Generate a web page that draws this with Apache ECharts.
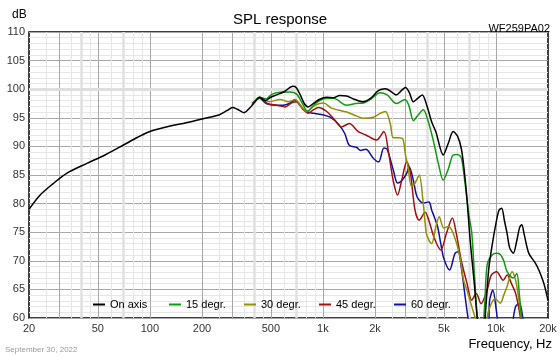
<!DOCTYPE html>
<html>
<head>
<meta charset="utf-8">
<script src="https://cdn.jsdelivr.net/npm/echarts@6/dist/echarts.min.js"></script>
<style>html,body{margin:0;padding:0;background:#fff;}#c{width:560px;height:356px;}</style>
</head>
<body>
<div id="c"></div>
<script>
// ---- data (frequency Hz, SPL dB) ----
var seriesNames = ['On axis', '15 degr.', '30 degr.', '45 degr.', '60 degr.'];
var seriesColors = ['#000000', '#109910', '#909000', '#a01010', '#1010a0'];

var onAxis = [[20,79.0],[23.2,81.5],[27.6,83.5],[33,85.3],[43,87.0],[55,88.5],[70,90.2],[85,91.6],[100,92.6],[137,93.7],[160,94.1],[200,94.8],[250,95.5],[280,96.3],[300,96.8],[320,96.5],[350,95.9],[380,96.8],[410,98.0],[430,98.6],[465,98.0],[500,98.6],[540,99.0],[600,99.6],[670,100.5],[700,100.3],[740,99.0],[780,97.5],[820,96.9],[880,97.5],[950,98.2],[1050,98.6],[1150,98.5],[1250,98.9],[1370,98.8],[1500,98.3],[1700,97.8],[1900,98.5],[2100,99.8],[2300,100.1],[2500,99.5],[2650,99.0],[2850,99.8],[3000,100.3],[3150,99.5],[3330,97.8],[3500,98.3],[3750,99.0],[4000,97.0],[4250,94.3],[4500,92.5],[4960,88.5],[5300,90.5],[5660,92.6],[6000,91.8],[6320,89.5],[6600,85.0],[6812,80.6],[7100,73.5],[7500,66.0],[7800,60.0],[8100,57.0],[8500,58.0],[8800,63.0],[9100,68.7],[9600,73.5],[10000,76.5],[10400,78.8],[10800,79.2],[11200,77.0],[11600,74.8],[12000,72.3],[12600,71.3],[13200,73.5],[13700,75.8],[14100,76.3],[14600,74.5],[15500,71.3],[16900,69.6],[17700,68.4],[18900,66.1],[20000,63.1]];

var deg15 = [[390,97.3],[430,98.6],[470,98.3],[506,99.1],[565,99.45],[642,99.5],[707,99.1],[770,97.2],[816,96.1],[882,97.2],[985,98.2],[1150,98.4],[1372,97.2],[1550,97.5],[1712,97.6],[1900,98.3],[2136,99.4],[2350,99.0],[2664,97.5],[2984,98.2],[3150,97.0],[3334,94.5],[3550,95.5],[3800,96.4],[4050,94.5],[4340,91.1],[4650,87.0],[4960,84.1],[5300,86.0],[5660,88.5],[6000,88.6],[6320,87.9],[6600,84.0],[6812,80.6],[7000,77.7],[7250,74.9],[7500,68.0],[7770,61.0],[8000,58.0],[8300,57.0],[8600,62.0],[8900,69.3],[9500,71.0],[10100,71.3],[10600,71.1],[11100,70.0],[11600,68.1],[12600,67.0],[13200,67.8],[13700,63.7],[14100,60.0],[14500,58.0]];

var deg30 = [[390,97.2],[430,98.6],[490,97.8],[565,98.2],[630,97.8],[690,98.2],[755,96.9],[805,96.1],[900,97.2],[1010,97.6],[1120,96.7],[1372,96.0],[1570,95.3],[1712,94.9],[1960,95.1],[2150,95.8],[2300,96.1],[2450,94.0],[2550,91.5],[2750,91.5],[2900,91.3],[3000,88.5],[3100,86.5],[3250,83.0],[3400,83.5],[3600,85.0],[3800,80.1],[3960,74.8],[4100,73.6],[4250,73.0],[4500,76.0],[4700,77.7],[5000,75.7],[5300,76.0],[5660,74.8],[6200,70.7],[6500,66.6],[6800,64.9],[7250,62.0],[7600,60.0],[7900,58.0],[8500,58.0],[9100,61.4],[9900,63.4],[10600,62.6],[11100,64.0],[11600,65.5],[12400,68.1],[13000,66.6],[13500,63.7],[14000,60.0],[14400,58.0]];

var deg45 = [[390,97.5],[430,98.4],[478,97.5],[540,97.2],[605,96.9],[660,97.6],[707,97.8],[770,96.4],[825,95.8],[880,96.4],[940,96.8],[1052,96.1],[1170,94.6],[1280,93.4],[1420,94.0],[1600,92.6],[1770,92.0],[2040,91.1],[2250,92.6],[2400,88.8],[2550,84.0],[2700,81.5],[2850,84.0],[3050,87.3],[3200,85.5],[3400,79.0],[3600,77.1],[3900,78.5],[4100,77.0],[4400,74.0],[4800,71.9],[5200,75.0],[5600,77.5],[5900,74.8],[6300,70.1],[6800,66.1],[7250,63.1],[7700,64.3],[8200,62.5],[8900,64.9],[9400,67.5],[10100,68.1],[11000,66.6],[11600,67.5],[12300,66.0],[13000,64.3],[13700,61.0],[14200,58.0]];

var deg60 = [[390,97.5],[430,98.4],[470,97.5],[530,97.2],[590,97.2],[640,97.5],[690,98.1],[735,97.2],[800,96.1],[882,95.8],[1010,95.5],[1100,95.1],[1220,94.0],[1335,92.3],[1420,90.2],[1570,89.8],[1650,89.3],[1770,89.5],[1960,87.9],[2100,87.3],[2250,89.7],[2350,89.5],[2550,85.9],[2700,83.6],[2850,84.0],[3050,85.3],[3150,86.5],[3330,84.1],[3500,81.2],[3800,80.1],[4100,80.3],[4250,78.9],[4400,77.7],[4600,76.0],[4800,73.0],[5000,70.4],[5400,68.4],[5800,71.3],[6050,71.6],[6300,69.0],[6600,64.3],[6900,60.0],[7200,57.0],[9000,58.0],[9200,63.1],[9600,64.9],[10100,60.9],[10500,58.0],[12000,58.0],[13000,62.0],[13700,62.6],[14300,60.0],[14600,58.0]];

// ---- axis ticks ----
var xTickValues = [20, 50, 100, 200, 500, 1000, 2000, 5000, 10000, 20000];
var xTickLabels = ['20', '50', '100', '200', '500', '1k', '2k', '5k', '10k', '20k'];
var gridMultipliers = [2, 2.5, 3, 3.5, 4, 4.5, 5, 6, 7, 8, 9, 10];
var darkMultipliers = [2, 3, 5, 10];
var thickMultipliers = [4, 7];
var decades = [10, 100, 1000];
var yHighlight = [100];

// ---- build grid markLines ----
var gridLines = [];
decades.forEach(function (d) {
  gridMultipliers.forEach(function (m) {
    var f = Math.round(d * m);
    if (f <= 20 || f >= 20000) return;
    var dark = darkMultipliers.indexOf(m) >= 0;
    var thick = thickMultipliers.indexOf(m) >= 0;
    gridLines.push({
      xAxis: f,
      lineStyle: {
        color: dark ? '#a8a8a8' : (thick ? '#e0e0e0' : '#e6e6e6'),
        width: thick ? 2.5 : 1,
        type: 'solid'
      }
    });
  });
});
yHighlight.forEach(function (v) {
  gridLines.push({ yAxis: v, lineStyle: { color: '#dedede', width: 3, type: 'solid' } });
});
var tickLabelLines = xTickValues.map(function (v, i) {
  return {
    xAxis: v,
    lineStyle: { color: 'rgba(0,0,0,0)', width: 1, type: 'solid' },
    label: { show: true, position: 'start', formatter: xTickLabels[i], distance: 5, color: '#333', fontSize: 11, fontFamily: 'Liberation Sans' }
  };
});

var chart = echarts.init(document.getElementById('c'), null, { renderer: 'canvas' });

var series = [{
  name: '_grid',
  type: 'line',
  data: [],
  silent: true,
  z: 1,
  markLine: {
    silent: true,
    symbol: 'none',
    animation: false,
    z: 1,
    lineStyle: { type: 'solid' },
    label: { show: false },
    data: gridLines.concat(tickLabelLines)
  }
}];
[onAxis, deg15, deg30, deg45, deg60].forEach(function (d, i) {
  series.push({
    name: seriesNames[i],
    type: 'line',
    data: d,
    symbol: 'none',
    smooth: 0.3,
    clip: true,
    z: 10 - i,
    lineStyle: { color: seriesColors[i], width: 1.5 },
    itemStyle: { color: seriesColors[i] }
  });
});

var legendLefts = [93, 169, 244, 319, 394];
var legends = seriesNames.map(function (n, i) {
  return {
    data: [n],
    left: legendLefts[i],
    top: 299,
    padding: 0,
    icon: 'rect',
    itemWidth: 12,
    itemHeight: 2,
    textStyle: { fontSize: 11, color: '#000', fontFamily: 'Liberation Sans' },
    selectedMode: false
  };
});

chart.setOption({
  animation: false,
  backgroundColor: '#fff',
  title: [
    { text: 'SPL response', left: 'center', top: 7, textStyle: { fontSize: 15, fontWeight: 'normal', color: '#000', fontFamily: 'Liberation Sans' } },
    { text: 'dB', left: 7, top: 4, textStyle: { fontSize: 12, fontWeight: 'normal', color: '#000', fontFamily: 'Liberation Sans' } },
    { text: 'WF259PA02', right: 5, top: 18, textStyle: { fontSize: 11, fontWeight: 'normal', color: '#000', fontFamily: 'Liberation Sans' } },
    { text: 'Frequency, Hz', right: 3, top: 333, textStyle: { fontSize: 13, fontWeight: 'normal', color: '#000', fontFamily: 'Liberation Sans' } },
    { text: 'September 30, 2022', left: 0, top: 341, textStyle: { fontSize: 8, fontWeight: 'normal', color: '#999', fontFamily: 'Liberation Sans' } }
  ],
  legend: legends,
  grid: { left: 29, right: 12, top: 32, bottom: 38, show: true, borderColor: '#000', borderWidth: 1.5, backgroundColor: 'transparent' },
  xAxis: {
    type: 'log', logBase: 10, min: 20, max: 20000,
    axisLine: { show: false }, axisTick: { show: false }, axisLabel: { show: false }, splitLine: { show: false }
  },
  yAxis: {
    type: 'value', min: 60, max: 110, interval: 5,
    axisLine: { show: false }, axisTick: { show: false },
    axisLabel: { fontSize: 11, color: '#333', margin: 4, fontFamily: 'Liberation Sans' },
    splitLine: { show: true, lineStyle: { color: '#a8a8a8', width: 1 } },
    minorTick: { show: false, splitNumber: 5 },
    minorSplitLine: { show: true, lineStyle: { color: '#e6e6e6', width: 1 } }
  },
  series: series
});
</script>
</body>
</html>
